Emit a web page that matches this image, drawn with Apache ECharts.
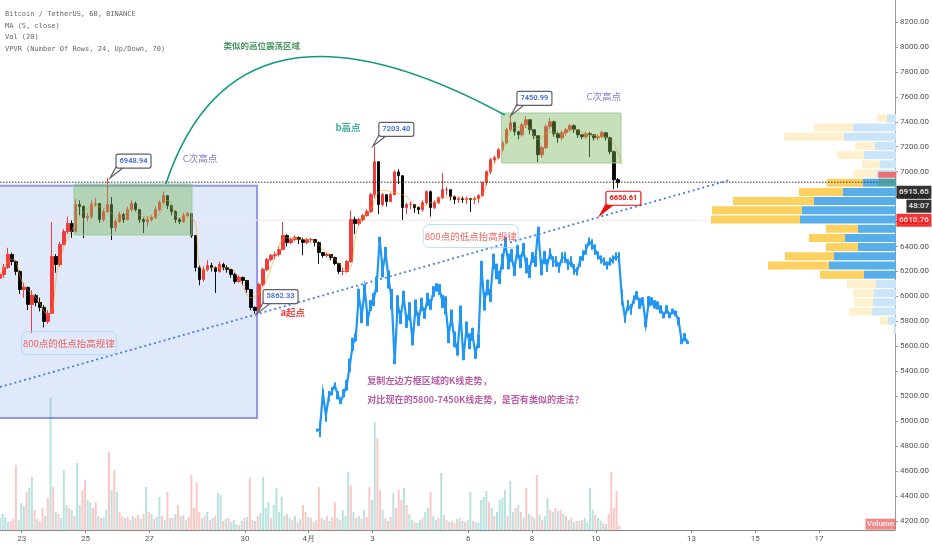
<!DOCTYPE html>
<html>
<head>
<meta charset="utf-8">
<style>
  html, body { margin: 0; padding: 0; background: #fff; }
  #main { width: 932px; height: 550px; }
</style>
<script src="https://cdn.jsdelivr.net/npm/echarts@6/dist/echarts.min.js"></script>
</head>
<body>
<div id="main"></div>
<script>
// 坐标范围 (天, 价格)
const dayMin = 22.32;
const dayMax = 50.38;
const priceMin = 4128;
const priceMax = 8376;
// 刻度
const priceTicks = [4200, 4400, 4600, 4800, 5000, 5200, 5400, 5600, 5800, 6000, 6200, 6400, 6600, 6800, 7000, 7200, 7400, 7600, 7800, 8000, 8200];
const dayTicks = [23, 25, 27, 30, 32, 34, 37, 39, 41, 44, 46, 48];
const dayTickLabels = ["23", "25", "27", "30", "4月", "3", "6", "8", "10", "13", "15", "17"];
// K线 (3小时一根读数)
const candleClose = [6176, 6232, 6336, 6280, 6200, 6056, 6072, 5936, 6008, 5952, 5912, 5800, 5864, 6320, 6256, 6416, 6520, 6584, 6520, 6736,
  6720, 6632, 6640, 6736, 6744, 6616, 6680, 6736, 6552, 6600, 6656, 6616, 6696, 6744, 6696, 6616, 6600, 6616, 6632, 6696,
  6752, 6808, 6728, 6680, 6616, 6600, 6648, 6664, 6488, 6232, 6136, 6216, 6248, 6232, 6200, 6256, 6232, 6216, 6176, 6120,
  6152, 6128, 6056, 5912, 5888, 6096, 6216, 6296, 6328, 6336, 6376, 6488, 6432, 6456, 6472, 6456, 6432, 6456, 6456, 6432,
  6352, 6328, 6336, 6312, 6264, 6200, 6200, 6280, 6616, 6584, 6616, 6648, 6680, 6816, 7080, 6736, 6816, 6760, 6816, 6998,
  6968, 6712, 6736, 6736, 6712, 6696, 6752, 6840, 6712, 6752, 6792, 6856, 6856, 6800, 6776, 6784, 6776, 6784, 6776, 6784,
  6808, 6912, 7000, 7096, 7112, 7176, 7232, 7336, 7392, 7320, 7296, 7376, 7416, 7336, 7288, 7136, 7192, 7360, 7400, 7304,
  7272, 7312, 7336, 7368, 7336, 7296, 7280, 7304, 7296, 7272, 7280, 7312, 7272, 7160, 6936, 6912];
const candleHigh = [6200, 6260, 6390, 6350, 6290, 6210, 6110, 6080, 6050, 6020, 5990, 5930, 5890, 6597, 6340, 6440, 6540, 6640, 6610, 6780,
  6770, 6730, 6670, 6770, 6790, 6750, 6700, 6948.94, 6797, 6620, 6680, 6670, 6720, 6770, 6760, 6700, 6630, 6640, 6650, 6720,
  6770, 6840, 6810, 6740, 6690, 6630, 6670, 6680, 6670, 6490, 6250, 6240, 6290, 6270, 6240, 6280, 6270, 6250, 6220, 6190,
  6170, 6160, 6130, 6060, 5920, 6110, 6230, 6310, 6340, 6360, 6400, 6596, 6500, 6470, 6490, 6480, 6470, 6470, 6470, 6460,
  6440, 6350, 6350, 6340, 6320, 6270, 6230, 6290, 6690, 6640, 6630, 6660, 6700, 6830, 7203.4, 7060, 6830, 6820, 6830, 7010,
  7020, 6970, 6750, 6760, 6740, 6720, 6770, 6850, 6850, 6770, 6800, 6990, 6880, 6860, 6810, 6800, 6800, 6800, 6790, 6800,
  6820, 6920, 7010, 7110, 7130, 7190, 7250, 7350, 7450.99, 7400, 7330, 7390, 7447, 7420, 7340, 7290, 7210, 7380, 7430, 7410,
  7320, 7330, 7350, 7380, 7380, 7340, 7300, 7320, 7320, 7300, 7300, 7330, 7320, 7280, 7170, 6950];
const candleLow = [6100, 6150, 6220, 6250, 6170, 6020, 5990, 5890, 5706, 5920, 5880, 5752, 5780, 5860, 6190, 6240, 6410, 6500, 6470, 6510,
  6650, 6468, 6600, 6620, 6720, 6590, 6600, 6670, 6452, 6520, 6590, 6590, 6610, 6680, 6680, 6590, 6508, 6560, 6600, 6620,
  6680, 6740, 6700, 6650, 6590, 6580, 6590, 6640, 6470, 6200, 6090, 6120, 6200, 6200, 6027, 6190, 6210, 6190, 6150, 6100,
  6110, 6090, 6030, 5890, 5862.33, 5880, 6080, 6200, 6280, 6300, 6320, 6370, 6400, 6420, 6440, 6420, 6330, 6420, 6430, 6400,
  6260, 6310, 6310, 6290, 6250, 6180, 6170, 6190, 6270, 6500, 6570, 6600, 6640, 6670, 6790, 6660, 6720, 6720, 6760, 6810,
  6900, 6612, 6660, 6700, 6670, 6660, 6680, 6740, 6640, 6700, 6740, 6780, 6810, 6770, 6740, 6750, 6750, 6740, 6676, 6740,
  6750, 6800, 6890, 6980, 7070, 7100, 7160, 7220, 7320, 7290, 7260, 7280, 7350, 7300, 7260, 7077, 7110, 7180, 7340, 7280,
  7230, 7250, 7290, 7320, 7310, 7270, 7260, 7260, 7117, 7250, 7250, 7270, 7250, 7140, 6860, 6870];
// MA5 读数 (每9小时)
const maValues = [6170, 6300, 6090, 5990, 5850, 6290, 6530, 6680, 6720, 6690, 6620, 6700, 6640, 6640, 6770, 6630, 6630, 6210, 6230, 6230,
  6140, 5990, 6080, 6310, 6470, 6460, 6450, 6380, 6300, 6210, 6570, 6700, 6850, 6830, 6800, 6720, 6750, 6790, 6800, 6780,
  6785, 7010, 7170, 7350, 7360, 7260, 7320, 7300, 7340, 7300, 7285, 7260, 7050];
// 复制的蓝色走势: 中值和上下波动
const copyStartDay = 32.257;
const copyPrices = [4928, 4936, 5224, 5048, 5200, 5240, 5288, 5208, 5160, 5224, 5288, 5448, 5616, 5672, 6008, 5848, 6056, 5816, 5928, 5976,
  6096, 6456, 6216, 6344, 6136, 5976, 5480, 5936, 5832, 5992, 5800, 5880, 5640, 5912, 5816, 5936, 5864, 5976, 5936, 6040,
  6072, 6056, 5960, 5928, 5688, 5832, 5656, 5560, 5864, 5512, 5736, 5640, 5696, 5544, 5640, 6232, 5960, 6072, 6008, 6280,
  6200, 6152, 6280, 6424, 6280, 6328, 6216, 6360, 6280, 6376, 6248, 6200, 6312, 6280, 6536, 6232, 6312, 6248, 6344, 6280,
  6280, 6232, 6312, 6312, 6256, 6280, 6216, 6200, 6280, 6328, 6376, 6440, 6416, 6376, 6328, 6296, 6280, 6248, 6280, 6296,
  6320, 6312, 5992, 5832, 5928, 5896, 5976, 6008, 5944, 5960, 5776, 5960, 5960, 5936, 5928, 5896, 5848, 5896, 5848, 5880,
  5864, 5800, 5640, 5672, 5632];
const copySpread = [10, 60, 30, 50, 40, 30, 20, 30, 20, 30, 40, 50, 50, 30, 50, 60, 40, 50, 40, 50,
  60, 20, 60, 50, 70, 80, 20, 70, 50, 50, 50, 70, 30, 60, 50, 50, 40, 50, 40, 40,
  30, 40, 50, 70, 60, 60, 60, 30, 60, 20, 60, 60, 50, 40, 50, 50, 70, 60, 50, 60,
  60, 50, 60, 50, 60, 50, 50, 50, 50, 50, 60, 50, 40, 40, 20, 60, 50, 50, 40, 40,
  40, 40, 40, 40, 40, 40, 40, 30, 40, 40, 40, 30, 40, 40, 30, 30, 30, 30, 30, 30,
  30, 40, 60, 40, 40, 40, 30, 30, 40, 30, 20, 40, 30, 30, 30, 30, 20, 30, 20, 20,
  20, 30, 20, 30, 10];
// 成交量 (正=涨 负=跌, 每2小时)
const volumes = [-12, -16, -13, -8, 9, 11, 65, -10, -27, -24, 38, -42, -53, 20, -11, 9, 22, -14, 32, -132,
  43, -18, 16, -12, -60, -25, 22, -20, 14, -67, -25, 40, 50, -30, -27, 22, 28, -14, 12, -13,
  -20, 78, -40, 60, -38, 18, 14, -12, 13, 10, -14, 12, 15, -11, 16, -43, 18, -16, 11, -13,
  -33, 14, -10, 38, -12, 12, -16, 25, -14, 15, -10, 13, 55, 22, 47, 18, -12, 14, -18, 10,
  -12, 14, -37, -35, 9, -11, 12, -8, -10, -6, 5, -9, 12, -13, 52, 10, -9, 14, -17, -53,
  -22, -28, 12, -25, -42, -18, -33, -14, 16, -12, 10, -14, 8, -11, 25, 18, -13, 12, -8, 10,
  43, 12, -10, 14, -9, 13, 28, -12, 10, -20, -14, -58, 45, -18, 12, -14, 11, -20, 13, 43,
  -30, -108, 92, 40, -20, 12, -9, 13, -37, 22, 40, 30, -42, 25, -16, -10, 8, -7, -10, 12,
  -18, -22, 38, -14, -10, 12, -57, -15, 10, -8, 9, 7, -11, 12, -9, 8, -10, -38, 9, -8,
  -7, -30, -33, -39, 28, -22, 14, -18, -30, -32, -40, 14, -49, -18, 22, -25, 18, -12, 42, -16,
  14, -12, 55, -15, 10, -14, -32, 20, -18, 22, -19, 20, -16, 14, -10, 12, -8, 9, -9, 10,
  -12, -8, -42, -20, 15, -12, -9, 7, -6, 16, 58, 22, 39, 4];
// VPVR 24行 (从上到下)
const vpDown = [9, 43, 52, 21, 32, 16, 19, 33, 53, 82, 94, 96, 38, 51, 38, 62, 67, 32, 20, 22, 23, 24, 8, 2];
const vpUp = [10, 39, 60, 20, 27, 18, 23, 36, 44, 81, 90, 89, 32, 36, 32, 49, 61, 44, 29, 21, 19, 23, 8, 1];
const vpValueArea = [0, 0, 0, 0, 0, 0, 0, 1, 1, 1, 1, 1, 1, 1, 1, 1, 1, 1, 0, 0, 0, 0, 0, 0];
// 画线: 圆弧三个控制点
const arcDays = [27.52, 29.75, 38.15];
const arcPrices = [6901, 8616, 7454];
const trendDays = [22.32, 45.2];
const trendPrices = [5274, 6933];
const lastPrice = 6915.65;
const redPrice = 6610.76;
// 方框 [起始天, 上沿价, 结束天, 下沿价]
const blueBox = [22, 6888, 30.38, 5025];
const greenBoxes = [
  [24.64, 6901, 28.34, 6493],
  [38.05, 7470, 41.79, 7070],
];
// 价格标注
const calloutDays = [25.77, 34.01, 38.34, 30.38, 41.13];
const calloutPrices = [6948.94, 7203.4, 7450.99, 5862.33, 6650.61];
// 文字
const noteTexts = ["类似的高位震荡区域", "C次高点", "b高点", "C次高点", "a起点", "800点的低点抬高规律", "800点的低点抬高规律"];
const noteDays = [30.53, 28.59, 33.23, 41.25, 31.5, 24.48, 37.08];
const notePrices = [8007, 7109, 7358, 7606, 5875, 5626, 6484];
const commentTexts = ["复制左边方框区域的K线走势，", "对比现在的5800-7450K线走势，是否有类似的走法？"];
const commentPrices = [5322, 5170];
const commentDay = 33.82;
const headerLines = ["Bitcoin / TetherUS, 60, BINANCE", "MA (5, close)", "Vol (20)", "VPVR (Number Of Rows, 24, Up/Down, 70)"];

const cjk = '"Noto Sans CJK SC", sans-serif';
const bubble = {
  color: "#f43c37", fontSize: 9.5, fontFamily: cjk, width: 95, height: 23, lineHeight: 23, align: "center",
  borderColor: "#a9d4fa", borderWidth: 1, borderRadius: 6,
};
const noteStyles = [
  { color: "#1e7a3c", fontSize: 8.5, fontWeight: "bold", fontFamily: cjk },
  { color: "#5c5cc0", fontSize: 9.5, fontFamily: cjk },
  { color: "#12977f", fontSize: 9.5, fontWeight: "bold", fontFamily: cjk },
  { color: "#5c5cc0", fontSize: 9.5, fontFamily: cjk },
  { color: "#f01010", fontSize: 9.5, fontWeight: "bold", fontFamily: cjk },
  bubble,
  bubble,
];

const myChart = echarts.init(document.querySelector("#main"), null, { renderer: "canvas" });

// 方框
function boxRender(fill, stroke, lineWidth) {
  return (params, api) => {
    const a = api.coord([api.value(0), api.value(1)]);
    const b = api.coord([api.value(2), api.value(3)]);
    return {
      type: "rect",
      shape: { x: a[0], y: a[1], width: b[0] - a[0], height: b[1] - a[1] },
      style: { fill, stroke, lineWidth },
    };
  };
}
// 圆弧
function arcRender(params, api) {
  const p = arcDays.map((d, i) => api.coord([d, arcPrices[i]]));
  return {
    type: "bezierCurve",
    shape: { x1: p[0][0], y1: p[0][1], cpx1: p[1][0], cpy1: p[1][1], x2: p[2][0], y2: p[2][1] },
    style: { fill: "none", stroke: "#12977f", lineWidth: 1.6 },
  };
}
// 价格气泡
function calloutRender(params, api) {
  const tip = api.coord([api.value(0), api.value(1)]);
  const isRed = params.dataIndex === 4;
  const line = isRed ? "#f01010" : "#5f5f6b";
  return {
    type: "group",
    children: [
      {
        type: "polygon",
        shape: { points: [tip, [tip[0] + 6, tip[1] - 11], [tip[0] + 14, tip[1] - 11]] },
        style: { fill: isRed ? "#f01010" : "#fff", stroke: line, lineWidth: 1.2 },
      },
      {
        type: "rect",
        shape: { x: tip[0] + 6, y: tip[1] - 24, width: 35, height: 14, r: 2 },
        style: { fill: "#fff", stroke: line, lineWidth: 1.2 },
      },
      {
        type: "text",
        style: {
          x: tip[0] + 23.5, y: tip[1] - 17, text: api.value(1).toFixed(2), align: "center", verticalAlign: "middle",
          fill: isRed ? "#f01010" : "#4a74e0", font: "bold 7.5px Roboto, sans-serif",
        },
      },
    ],
  };
}
// 右侧价格标签
function tag(value, text, bg, dx, dy, width, height, fontSize) {
  return {
    value: [dayMax, value],
    label: {
      show: true, position: "right", formatter: text, offset: [dx, dy], color: "#fff", backgroundColor: bg,
      width, height, lineHeight: height, align: "center", fontSize, fontWeight: "bold", fontFamily: "Roboto, sans-serif",
    },
  };
}

const option = {
  animation: false,
  title: headerLines.map((text, i) => ({
    text,
    left: 5,
    top: 10.5 + i * 11.7,
    padding: 0,
    textStyle: { color: "#666", fontSize: 7, fontWeight: "normal", fontFamily: "DejaVu Sans Mono" },
  })),
  grid: [
    { left: 0, top: 0, width: 896, height: 530 },
    { left: 696, top: 113.7, width: 200, height: 220.8 },
  ],
  xAxis: [
    {
      type: "value", min: dayMin, max: dayMax, gridIndex: 0, splitLine: { show: false },
      axisLine: { onZero: false, lineStyle: { color: "#888" } },
      axisTick: { customValues: dayTicks, length: 3, lineStyle: { color: "#888" } },
      axisLabel: {
        customValues: dayTicks, color: "#555", fontSize: 8, margin: 5, fontFamily: "Roboto, sans-serif",
        formatter: (v) => dayTickLabels[dayTicks.indexOf(v)],
      },
    },
    { type: "value", min: 0, max: 200, inverse: true, gridIndex: 1, show: false },
  ],
  yAxis: [
    {
      type: "value", min: priceMin, max: priceMax, position: "right", gridIndex: 0, splitLine: { show: false },
      axisLine: { show: true, onZero: false, lineStyle: { color: "#999" } },
      axisTick: { customValues: priceTicks, length: 3, lineStyle: { color: "#999" } },
      axisLabel: {
        customValues: priceTicks, color: "#555", fontSize: 8, margin: 5, fontFamily: "Roboto, sans-serif",
        formatter: (v) => v.toFixed(2),
      },
    },
    { type: "value", min: 0, max: 530, gridIndex: 0, show: false },
    { type: "category", inverse: true, gridIndex: 1, show: false, data: vpDown.map((v, i) => i) },
  ],
  series: [
    {
      type: "custom", z: 1, silent: true, encode: { x: [0, 2], y: [1, 3] }, data: [blueBox],
      renderItem: boxRender("#dfe9fa", "#8f97ea", 2),
    },
    {
      type: "line", z: 1, silent: true, showSymbol: false, data: [[dayMin, redPrice], [dayMax, redPrice]],
      lineStyle: { color: "#fde3e3", width: 1 },
    },
    {
      type: "bar", yAxisIndex: 1, z: 2, silent: true, barWidth: 2,
      data: volumes.map((v, i) => ({
        value: [dayMin + i * 0.08333, Math.abs(v)],
        itemStyle: { color: v > 0 ? "rgba(244,100,96,0.36)" : "rgba(38,166,154,0.32)" },
      })),
    },
    {
      type: "candlestick", z: 3, silent: true, barWidth: 3, encode: { x: 0, y: [1, 2, 3, 4] },
      itemStyle: { color: "#f23b3b", color0: "#000", borderColor: "#f23b3b", borderColor0: "#111", borderWidth: 1 },
      data: candleClose.map((c, i) => [dayMin + i * 0.125, i ? candleClose[i - 1] : c - 30, c, candleLow[i], candleHigh[i]]),
    },
    {
      type: "line", z: 4, silent: true, showSymbol: false, smooth: true,
      lineStyle: { color: "rgba(255,152,0,0.55)", width: 1 },
      data: maValues.map((v, i) => [dayMin + i * 0.375, v]),
    },
    {
      type: "custom", z: 5, silent: true, encode: { x: [0, 2], y: [1, 3] }, data: greenBoxes,
      renderItem: boxRender("rgba(120,180,90,0.42)", "#9ccb9c", 1),
    },
    {
      type: "line", z: 6, silent: true, showSymbol: false, data: [[dayMin, lastPrice], [dayMax, lastPrice]],
      lineStyle: { color: "#333", width: 1, type: [1.5, 1.5] },
    },
    {
      type: "line", z: 6, silent: true, showSymbol: false,
      data: copyPrices.map((p, i) => [copyStartDay + i * 0.09375, p]),
      lineStyle: { color: "#2196f3", width: 2.2, join: "miter" },
    },
    {
      type: "candlestick", z: 6, silent: true, barWidth: 2.2, encode: { x: 0, y: [1, 2, 3, 4] },
      itemStyle: { color: "#2196f3", color0: "#2196f3", borderColor: "#2196f3", borderColor0: "#2196f3", borderWidth: 1 },
      data: copyPrices.map((p, i) => [copyStartDay + i * 0.09375, p - copySpread[i], p + copySpread[i], p - copySpread[i], p + copySpread[i]]),
    },
    {
      type: "line", z: 6, silent: true, showSymbol: false,
      data: trendDays.map((d, i) => [d, trendPrices[i]]),
      lineStyle: { color: "#3f80e6", width: 1.8, type: [2, 3] },
    },
    {
      type: "custom", z: 6, silent: true, encode: { x: 0, y: 1 }, data: [[arcDays[0], arcPrices[0]]],
      renderItem: arcRender,
    },
    {
      type: "custom", z: 7, silent: true, encode: { x: 0, y: 1 },
      data: calloutDays.map((d, i) => [d, calloutPrices[i]]),
      renderItem: calloutRender,
    },
    {
      type: "scatter", z: 7, silent: true, symbolSize: 1, itemStyle: { color: "transparent" },
      data: noteTexts.map((text, i) => ({
        value: [noteDays[i], notePrices[i]],
        label: { show: true, position: "inside", formatter: text, ...noteStyles[i] },
      })),
    },
    {
      type: "scatter", z: 7, silent: true, symbolSize: 1, itemStyle: { color: "transparent" },
      data: commentTexts.map((text, i) => ({
        value: [commentDay, commentPrices[i]],
        label: {
          show: true, position: "right", distance: 0, formatter: text, color: "#a8338f",
          fontSize: 9.1, fontWeight: "bold", fontFamily: cjk,
        },
      })),
    },
    {
      type: "bar", xAxisIndex: 1, yAxisIndex: 2, stack: "vp", z: 3, silent: true, barWidth: 8,
      data: vpDown.map((v, i) => ({ value: v, itemStyle: { color: vpValueArea[i] ? "#58aee9" : "#cae5f8" } })),
    },
    {
      type: "bar", xAxisIndex: 1, yAxisIndex: 2, stack: "vp", z: 3, silent: true, barWidth: 8,
      data: vpUp.map((v, i) => ({ value: v, itemStyle: { color: vpValueArea[i] ? "#fdd160" : "#fff0cd" } })),
    },
    {
      type: "scatter", z: 8, silent: true, symbolSize: 1, clip: false, itemStyle: { color: "transparent" },
      data: [
        tag(lastPrice, "6915.65", "#000", 13.5, 10, 35, 13, 8),
        tag(lastPrice, "48:07", "#000", 18.5, 24, 25, 13, 8),
        tag(redPrice, "6610.76", "#f70000", 13.5, 0, 35, 13, 8),
        tag(lastPrice, "", "#4aa08f", -13, 0, 18, 7, 6),
        tag(6975, "", "#ef5350", -13, 0, 18, 6, 6),
        tag(4175, "Volume", "#ef6b6b", -20, 0, 30, 11, 8),
      ],
    },
  ],
};
myChart.setOption(option);
</script>
</body>
</html>
